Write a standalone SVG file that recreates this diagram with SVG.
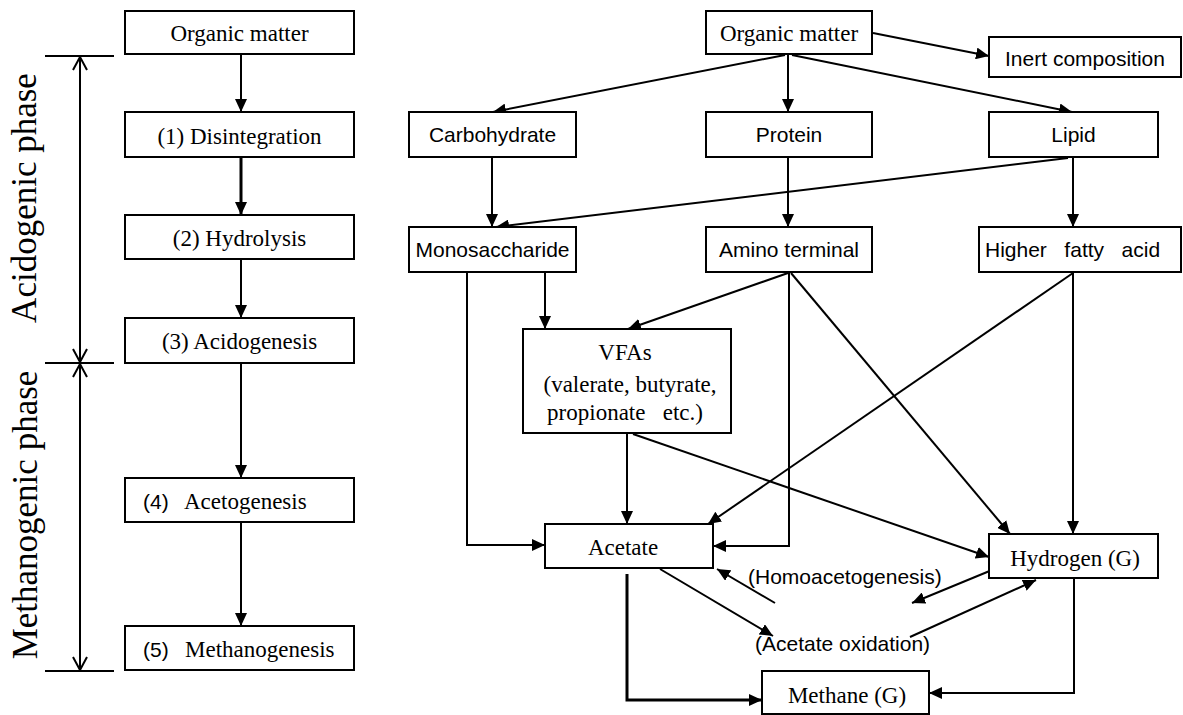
<svg xmlns="http://www.w3.org/2000/svg" width="1183" height="715" viewBox="0 0 1183 715">
<style>
.box{fill:#fff;stroke:#000;stroke-width:2}
.serif{font-family:"Liberation Serif","Times New Roman",serif;font-size:23px;fill:#000}
.sans{font-family:"Liberation Sans",Arial,sans-serif;font-size:21px;fill:#000}
.phase{font-family:"Liberation Serif","Times New Roman",serif;font-size:35px;fill:#000}
.c{text-anchor:middle}
.ln{fill:none;stroke:#000;stroke-width:2}
.thick{stroke-width:3}
</style>
<defs>
<marker id="ah" markerWidth="14" markerHeight="12" refX="13" refY="6" orient="auto" markerUnits="userSpaceOnUse"><path d="M0,0 L13,6 L0,12 z" fill="#000"/></marker>
<marker id="chev" markerWidth="16" markerHeight="18" refX="14" refY="8" orient="auto-start-reverse" markerUnits="userSpaceOnUse"><path d="M1,1 L14,8 L1,15" fill="none" stroke="#000" stroke-width="2"/></marker>
</defs>
<rect width="1183" height="715" fill="#fff"/>

<g id="phases">
<line class="ln" x1="45" y1="56" x2="114" y2="56"/>
<line class="ln" x1="45" y1="363" x2="114" y2="363"/>
<line class="ln" x1="45" y1="671" x2="114" y2="671"/>
<line class="ln" x1="80" y1="57" x2="80" y2="362" marker-start="url(#chev)" marker-end="url(#chev)"/>
<line class="ln" x1="80" y1="364" x2="80" y2="670" marker-start="url(#chev)" marker-end="url(#chev)"/>
<text class="phase c" transform="translate(36,198) rotate(-90)">Acidogenic phase</text>
<text class="phase c" transform="translate(37,515) rotate(-90)">Methanogenic phase</text>
</g>

<g id="connectors">
<line class="ln" x1="241" y1="54" x2="241" y2="112" marker-end="url(#ah)"/>
<line class="ln thick" x1="241" y1="157" x2="241" y2="215" marker-end="url(#ah)"/>
<line class="ln" x1="241" y1="259" x2="241" y2="318" marker-end="url(#ah)"/>
<line class="ln" x1="241" y1="363" x2="241" y2="478" marker-end="url(#ah)"/>
<line class="ln" x1="241" y1="522" x2="241" y2="626" marker-end="url(#ah)"/>

<line class="ln" x1="785" y1="55" x2="493" y2="112" marker-end="url(#ah)"/>
<line class="ln" x1="788" y1="54" x2="788" y2="112" marker-end="url(#ah)"/>
<line class="ln" x1="792" y1="55" x2="1072" y2="112" marker-end="url(#ah)"/>
<line class="ln" x1="873" y1="33" x2="989" y2="56" marker-end="url(#ah)"/>
<line class="ln" x1="492" y1="157" x2="492" y2="227" marker-end="url(#ah)"/>
<line class="ln" x1="788" y1="157" x2="788" y2="227" marker-end="url(#ah)"/>
<line class="ln" x1="1073" y1="157" x2="1073" y2="227" marker-end="url(#ah)"/>
<line class="ln" x1="1068" y1="158" x2="496" y2="227" marker-end="url(#ah)"/>
<polyline class="ln" points="467,272 467,545 545,545" marker-end="url(#ah)"/>
<line class="ln" x1="545" y1="272" x2="545" y2="329" marker-end="url(#ah)"/>
<line class="ln" x1="788" y1="273" x2="628" y2="329" marker-end="url(#ah)"/>
<polyline class="ln" points="789,272 789,546 713,546" marker-end="url(#ah)"/>
<line class="ln" x1="791" y1="273" x2="1010" y2="534" marker-end="url(#ah)"/>
<line class="ln" x1="1073" y1="273" x2="708" y2="524" marker-end="url(#ah)"/>
<line class="ln" x1="1073" y1="272" x2="1073" y2="534" marker-end="url(#ah)"/>
<line class="ln" x1="627" y1="433" x2="627" y2="524" marker-end="url(#ah)"/>
<line class="ln" x1="633" y1="434" x2="989" y2="557" marker-end="url(#ah)"/>
<polyline class="ln thick" points="627,574 627,700 762,700" marker-end="url(#ah)"/>
<line class="ln" x1="660" y1="569" x2="773" y2="636" marker-end="url(#ah)"/>
<line class="ln" x1="775" y1="603" x2="717" y2="569" marker-end="url(#ah)"/>
<line class="ln" x1="992" y1="570" x2="912" y2="603" marker-end="url(#ah)"/>
<line class="ln" x1="910" y1="637" x2="1036" y2="580" marker-end="url(#ah)"/>
<polyline class="ln" points="1074,578 1074,693 929,693" marker-end="url(#ah)"/>
</g>

<g id="labels">
<text class="sans" x="748" y="584">(Homoacetogenesis)</text>
<text class="sans" x="755" y="651">(Acetate oxidation)</text>
</g>

<g id="n-organic-left"><rect class="box" x="125" y="11" width="229" height="43"/><text class="serif c" x="239.5" y="41">Organic matter</text></g>
<g id="n-disintegration"><rect class="box" x="125" y="112" width="229" height="45"/><text class="serif c" x="239.5" y="144">(1) Disintegration</text></g>
<g id="n-hydrolysis"><rect class="box" x="125" y="215" width="229" height="44"/><text class="serif c" x="239.5" y="246">(2) Hydrolysis</text></g>
<g id="n-acidogenesis"><rect class="box" x="125" y="318" width="229" height="45"/><text class="serif c" x="239.5" y="349">(3) Acidogenesis</text></g>
<g id="n-acetogenesis"><rect class="box" x="125" y="478" width="229" height="44"/><text y="509"><tspan class="sans" x="143">(4)</tspan><tspan class="serif" x="184">Acetogenesis</tspan></text></g>
<g id="n-methanogenesis"><rect class="box" x="125" y="626" width="229" height="44"/><text y="657"><tspan class="sans" x="143">(5)</tspan><tspan class="serif" x="185">Methanogenesis</tspan></text></g>

<g id="n-organic"><rect class="box" x="706" y="11" width="166" height="43"/><text class="serif c" x="789" y="41">Organic matter</text></g>
<g id="n-inert"><rect class="box" x="989" y="37" width="192" height="40"/><text class="sans c" x="1085" y="66">Inert composition</text></g>
<g id="n-carbohydrate"><rect class="box" x="409" y="112" width="167" height="45"/><text class="sans c" x="492.5" y="142">Carbohydrate</text></g>
<g id="n-protein"><rect class="box" x="706" y="112" width="166" height="45"/><text class="sans c" x="789" y="142">Protein</text></g>
<g id="n-lipid"><rect class="box" x="989" y="112" width="169" height="45"/><text class="sans c" x="1073.5" y="142">Lipid</text></g>
<g id="n-monosaccharide"><rect class="box" x="409" y="227" width="167" height="45"/><text class="sans c" x="492.5" y="257">Monosaccharide</text></g>
<g id="n-amino"><rect class="box" x="706" y="227" width="166" height="45"/><text class="sans c" x="789" y="257">Amino terminal</text></g>
<g id="n-hfa"><rect class="box" x="979" y="227" width="202" height="45"/><text class="sans" x="985" y="257" xml:space="preserve" style="white-space:pre">Higher   fatty   acid</text></g>
<g id="n-vfas"><rect class="box" x="523" y="329" width="208" height="104"/><text class="serif c" x="625" y="360">VFAs</text><text class="serif c" x="630" y="392">(valerate, butyrate,</text><text class="serif c" x="625" y="420" xml:space="preserve" style="white-space:pre">propionate   etc.)</text></g>
<g id="n-acetate"><rect class="box" x="545" y="524" width="168" height="44"/><text class="serif c" x="623" y="555">Acetate</text></g>
<g id="n-hydrogen"><rect class="box" x="989" y="534" width="169" height="44"/><text class="serif c" x="1075" y="566">Hydrogen (G)</text></g>
<g id="n-methane"><rect class="box" x="762" y="671" width="167" height="43"/><text class="serif c" x="847" y="703">Methane (G)</text></g>
</svg>
